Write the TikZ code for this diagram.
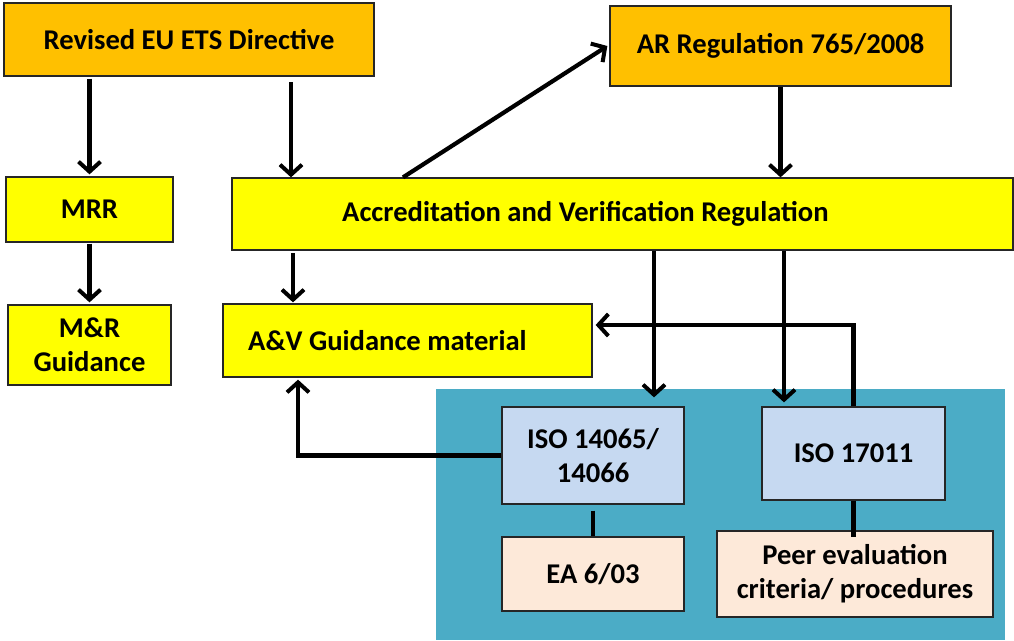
\documentclass[tikz,border=0pt]{standalone}
\usepackage{fontspec}
\setmainfont{Carlito}
\usetikzlibrary{arrows.meta}
\definecolor{orangebox}{HTML}{FFC000}
\definecolor{yellowbox}{HTML}{FFFF00}
\definecolor{tealbg}{HTML}{4BACC6}
\definecolor{isobox}{HTML}{C6D9F1}
\definecolor{peachbox}{HTML}{FDE9D9}
\begin{document}
\begin{tikzpicture}[x=1pt,y=-1pt,
  box/.style={draw=black!85, line width=1.3pt, inner sep=0pt, align=center,
    font=\fontsize{28.6}{34}\selectfont\bfseries},
  txt/.style={inner sep=0pt, font=\fontsize{28.6}{34}\selectfont\bfseries},
  arr/.style={line width=4.2pt, -{Straight Barb[length=10pt,width=22pt,line width=4pt]}},
  link/.style={line width=4.2pt}]
\useasboundingbox (0,0) rectangle (1014,640);
\fill[tealbg] (436,389) rectangle (1005,640);
% boxes
\node[box, fill=orangebox, minimum width=370pt, minimum height=73pt] (rev) at (189,39.5) {Revised EU ETS Directive};
\node[box, fill=orangebox, minimum width=341pt, minimum height=80pt] (ar) at (780.5,46) {AR Regulation 765/2008};
\node[box, fill=yellowbox, minimum width=167pt, minimum height=65pt] (mrr) at (89.5,209.5) {MRR};
\node[box, fill=yellowbox, minimum width=163pt, minimum height=80pt] (mrg) at (89.5,345) {M\&R\\Guidance};
\node[box, fill=yellowbox, minimum width=781pt, minimum height=72pt] (avr) at (622.5,214) {};
\node[txt, anchor=west] (avrt) at (342,214) {Accreditation and Verification Regulation};
\node[box, fill=yellowbox, minimum width=369pt, minimum height=73pt] (avg) at (407.5,340.5) {};
\node[txt, anchor=west] (avgt) at (248,340.5) {A\&V Guidance material};
\node[box, fill=isobox, minimum width=182pt, minimum height=97pt] (iso1) at (593,455.5) {ISO 14065/\\14066};
\node[box, fill=isobox, minimum width=183pt, minimum height=93pt] (iso2) at (853.5,453.5) {ISO 17011};
\node[box, fill=peachbox, minimum width=182pt, minimum height=74pt] (ea) at (593,574) {EA 6/03};
\node[box, fill=peachbox, minimum width=276pt, minimum height=86pt] (peer) at (855,574) {Peer evaluation\\criteria/ procedures};
% helper coordinates
\coordinate (c291) at (291,82);
\coordinate (c403) at (403,0);
\coordinate (c293) at (293,253);
\coordinate (c654) at (654,0);
\coordinate (c784) at (784,0);
\coordinate (c298) at (298,0);
% connectors
\draw[arr] ([yshift=-2pt]rev.south -| mrr.north) -- ([yshift=2pt]mrr.north);
\draw[arr] (c291) -- (c291 |- avr.north);
\draw[arr] (c403 |- avr.north) -- ([xshift=-2pt]ar.west);
\draw[arr] (ar.south) -- (ar.south |- avr.north);
\draw[arr] ([yshift=-1pt]mrr.south) -- ([yshift=2pt]mrg.north);
\draw[arr] (c293) -- ([yshift=1pt]c293 |- avg.north);
\draw[arr] (c654 |- avr.south) -- ([yshift=9pt]c654 |- iso1.north);
\draw[arr] (c784 |- avr.south) -- ([yshift=4pt]c784 |- iso2.north);
\draw[arr] (iso2.north) |- ([xshift=3pt,yshift=15.5pt]avg.east);
\draw[arr] (iso1.west) -| ([yshift=-2pt]c298 |- avg.south);
\draw[link] ([yshift=-6pt]iso1.south) -- (ea.north);
\draw[link] (iso2.south) -- ([yshift=-7pt]iso2.south |- peer.north);
\end{tikzpicture}
\end{document}
